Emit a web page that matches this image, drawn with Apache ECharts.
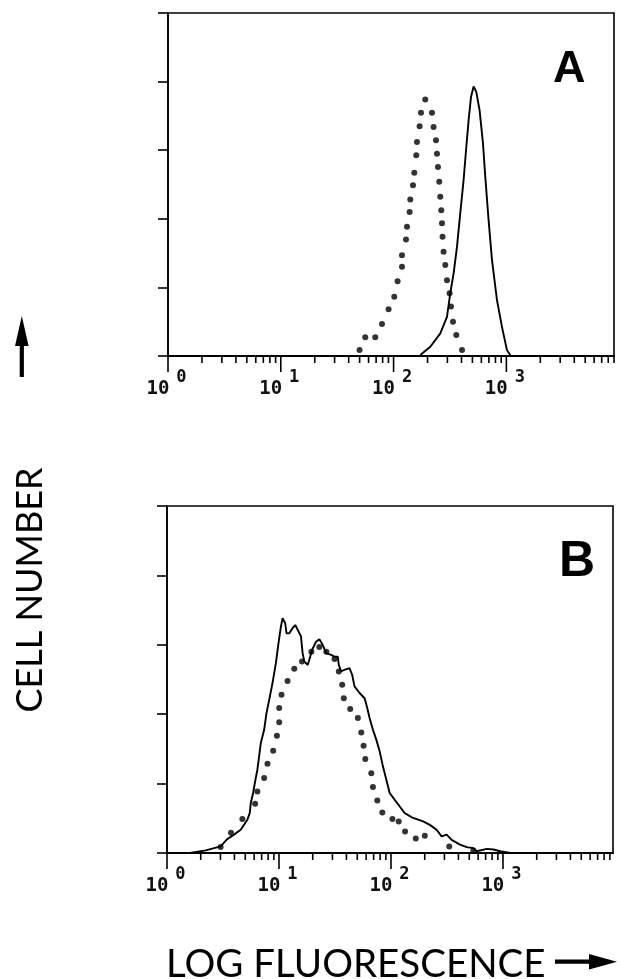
<!DOCTYPE html>
<html><head><meta charset="utf-8">
<script src="https://cdn.jsdelivr.net/npm/echarts@6/dist/echarts.min.js"></script>
<style>html,body{margin:0;padding:0;background:#fff}#c{width:620px;height:979px}</style>
</head><body><div id="c"></div>
<script>
// ---------- data ----------
const panelLetters = ['A', 'B'];
const decadeTicks = [1, 10, 100, 1000];
const decadeExponents = ['0', '1', '2', '3'];
const minorTicks = [2,3,4,5,6,7,8,9, 20,30,40,50,60,70,80,90, 200,300,400,500,600,700,800,900, 2000,3000,4000,5000,6000,7000,8000,9000];

// Panel A (solid curve)
const aSolidX = [172.5, 211.7, 259.6, 297.4, 318.2, 340.6, 364.8, 390, 417.6, 441.5, 462.5, 485.6, 512, 540.8, 578.6, 620.3, 650.2, 695.6, 745.3, 825.5, 914, 1012, 1083];
const aSolidY = [0.3, 2.7, 6.6, 11.4, 18.3, 24.1, 31.8, 41.6, 51.3, 61, 68.7, 75.5, 78.6, 77, 71.7, 62, 52.2, 39.6, 28, 16.3, 8.5, 1.7, 0.3];
// Panel A (dotted curve)
const aDotX = [49.95, 56.1, 68.8, 78.9, 90.3, 101.4, 108.5, 118.7, 118.7, 128.8, 131.5, 138.7, 140.6, 148.6, 152.6, 158.9, 161.2, 170.1, 175, 191, 219, 226.2, 237.6, 242.5, 247.5, 254.2, 259.4, 264.8, 268.6, 271.9, 277.5, 287.2, 297.4, 313.7, 322.8, 336.3, 359.7, 404.2];
const aDotY = [1.75, 5.45, 5.45, 9.3, 13.6, 17.3, 21.8, 26, 29.4, 34, 37.7, 42, 45.6, 49.8, 53.4, 58.5, 62.4, 67, 70.9, 74.8, 70.9, 66.8, 62.9, 59, 55.1, 50.8, 46.4, 42.5, 38.7, 34.8, 30.4, 26.5, 22.1, 18.3, 14.4, 10, 6.1, 1.75];

// Panel B (solid curve)
const bSolidX = [1.6, 2.22, 3.01, 3.45, 3.97, 4.55, 5.22, 5.48, 5.60, 5.87, 6.12, 6.41, 6.64, 6.88, 7.37, 7.73, 8.17, 8.74, 9.38, 9.90, 10.19, 10.40, 10.75, 11.37, 11.68, 12.35, 13.22, 13.97, 14.96, 15.72, 16.25, 16.83, 18.02, 18.66, 19.73, 21.42, 22.94, 24.55, 26.34, 29.21, 31.27, 33.47, 34.17, 35.92, 38.44, 42.62, 45.06, 47.25, 52.4, 58.1, 60.9, 64.4, 69.0, 74.0, 79.2, 84.8, 90.9, 97.3, 108, 119.7, 132.7, 157.5, 193.6, 222.4, 255.4, 283.1, 314.0, 348.1, 413.1, 474.6, 543.8, 583.3, 717.2, 821.7, 943.9, 1160];
const bSolidY = [0, 0.75, 1.9, 4.0, 5.3, 6.7, 9.6, 11.5, 14.4, 17.3, 20.6, 24, 27.8, 31.7, 35.5, 40.3, 44.1, 48.9, 54.7, 60.5, 63.3, 65.2, 67.7, 66.2, 63.3, 63.3, 64.8, 65.7, 63.8, 62.4, 57.6, 55.2, 54.2, 55.7, 58.5, 60.9, 61.6, 60, 57.6, 57.1, 56.6, 56.6, 54.2, 52.3, 52.8, 53.3, 51.3, 48, 46.1, 44.6, 42.2, 38.9, 35.5, 32.6, 29.3, 24.9, 21.1, 17.3, 15.3, 13.4, 11.5, 10.1, 9.1, 8.1, 6.7, 4.8, 5.3, 3.8, 2.4, 1.7, 1.4, 0.5, 1.2, 1.0, 0.5, 0];
// Panel B (dotted curve)
const bDotX = [3.01, 3.73, 4.71, 6.12, 6.41, 7.37, 7.89, 8.87, 9.58, 10.04, 10.04, 10.53, 11.92, 13.69, 16.05, 19.45, 22.9, 26.5, 31.3, 34.2, 36.65, 37.9, 43.24, 50.6, 54.3, 56.9, 58.96, 66.7, 69, 75.5, 83.7, 103, 117.2, 133.6, 166.5, 200.5, 331.3, 543.8];
const bDotY = [1.7, 5.8, 9.8, 14.2, 17.7, 21.6, 25.7, 29.5, 33.8, 37.7, 41.8, 45.6, 49.6, 53.1, 55.2, 58, 59.4, 58, 55.9, 52.3, 48.5, 44.6, 41.5, 38.9, 34.7, 30.9, 27.1, 23, 19, 15.1, 11.7, 9.8, 9.1, 6.2, 4.2, 5, 1.9, 0.7];

const xLabelText = 'LOG FLUORESCENCE';
const yLabelText = 'CELL NUMBER';

// ---------- chart ----------
const zip = (xs, ys) => xs.map((x, i) => [x, ys[i]]);
const chart = echarts.init(document.getElementById('c'), null, {renderer: 'canvas'});

const grids = [
  {left: 168, top: 13, width: 446, height: 343, xMax: 9000},
  {left: 167, top: 506, width: 446, height: 347, xMax: 9600}
];

const xAxes = grids.map((g, i) => ({
  type: 'log', logBase: 10, gridIndex: i, min: 1, max: g.xMax,
  axisLine: {show: true, lineStyle: {color: '#000', width: 2}},
  axisTick: {show: false},
  splitLine: {show: false},
  axisLabel: {
    show: true, margin: 13, showMaxLabel: false, hideOverlap: false,
    formatter: v => {
      const e = Math.log10(v), r = Math.round(e);
      if (Math.abs(e - r) > 1e-6) return '';
      const k = decadeTicks.indexOf(Math.pow(10, r));
      return k < 0 ? '' : '{b|10}{e|' + decadeExponents[k] + '}';
    },
    rich: {
      b: {fontFamily: 'DejaVu Sans Mono', fontWeight: 'bold', fontSize: 19, color: '#111', lineHeight: 30, verticalAlign: 'bottom'},
      e: {fontFamily: 'DejaVu Sans Mono', fontWeight: 'bold', fontSize: 17, color: '#111', lineHeight: 18, verticalAlign: 'top', padding: [0, 3, 0, 7]}
    }
  }
}));

const yAxes = grids.map((g, i) => ({
  type: 'value', gridIndex: i, min: 0, max: 100, interval: 20,
  axisLine: {show: true, lineStyle: {color: '#000', width: 1.6}},
  axisTick: {show: true, inside: false, length: 10, lineStyle: {color: '#000', width: 1.6}},
  axisLabel: {show: false},
  splitLine: {show: false}
}));

function tickSeries(idx, values, len) {
  return {
    type: 'custom', xAxisIndex: idx, yAxisIndex: idx, clip: false, silent: true, z: 5,
    data: values.map(v => [v, 0]),
    renderItem: (params, api) => {
      const p = api.coord([api.value(0), 0]);
      return {type: 'line', shape: {x1: p[0], y1: p[1], x2: p[0], y2: p[1] + len},
        style: {stroke: '#000', lineWidth: 1.6}};
    }
  };
}

const series = [];
[[aSolidX, aSolidY, aDotX, aDotY], [bSolidX, bSolidY, bDotX, bDotY]].forEach((d, i) => {
  series.push({type: 'line', xAxisIndex: i, yAxisIndex: i, data: zip(d[0], d[1]), showSymbol: false,
    lineStyle: {color: '#000', width: 1.9}, silent: true, z: 3});
  series.push({type: 'scatter', xAxisIndex: i, yAxisIndex: i, data: zip(d[2], d[3]), symbol: 'circle',
    symbolSize: 6, itemStyle: {color: '#000'}, silent: true, z: 4});
  series.push(tickSeries(i, decadeTicks, 16));
  series.push(tickSeries(i, minorTicks, 7));
});

const graphic = [
  {type: 'text', left: 553, top: 47, style: {text: panelLetters[0], font: 'bold 45px "Liberation Sans"', fill: '#000'}},
  {type: 'text', left: 559, top: 537, style: {text: panelLetters[1], font: 'bold 50px "Liberation Sans"', fill: '#000'}},
  {type: 'text', x: 30, y: 590, rotation: Math.PI / 2,
    style: {text: yLabelText, font: '36px Lato', fill: '#000', align: 'center', verticalAlign: 'middle'}},
  {type: 'text', x: 166, y: 965,
    style: {text: xLabelText, font: '38.5px Lato', fill: '#000', align: 'left', verticalAlign: 'middle'}},
  // up arrow
  {type: 'rect', shape: {x: 19.7, y: 340, width: 4.2, height: 37}, style: {fill: '#000'}},
  {type: 'polygon', shape: {points: [[21.8, 316], [15, 346], [28.6, 346]]}, style: {fill: '#000'}},
  // right arrow
  {type: 'rect', shape: {x: 555, y: 959.6, width: 38, height: 4.2}, style: {fill: '#000'}},
  {type: 'polygon', shape: {points: [[617, 961.7], [589, 954], [589, 969.4]]}, style: {fill: '#000'}}
];

chart.setOption({
  animation: false,
  backgroundColor: '#fff',
  grid: grids.map(g => ({left: g.left, top: g.top, width: g.width, height: g.height,
    show: true, borderColor: '#000', borderWidth: 1.6, backgroundColor: 'transparent',
    containLabel: false, outerBoundsMode: 'none'})),
  xAxis: xAxes,
  yAxis: yAxes,
  series: series,
  graphic: graphic
});
</script>
</body></html>
